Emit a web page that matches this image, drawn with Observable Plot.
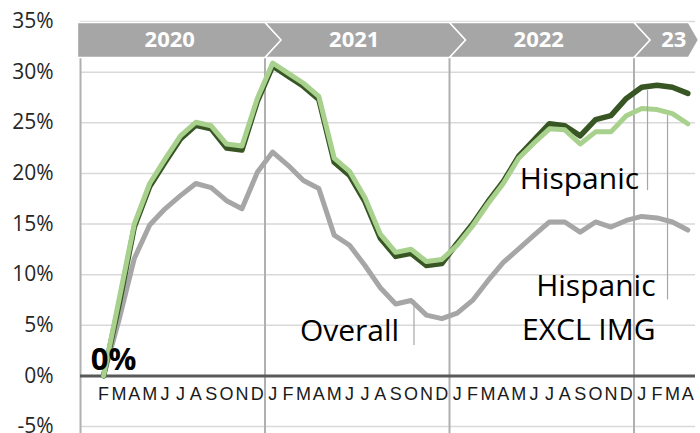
<!DOCTYPE html>
<html><head><meta charset="utf-8">
<script src="https://cdn.jsdelivr.net/npm/d3@7"></script>
<script src="https://cdn.jsdelivr.net/npm/@observablehq/plot@0.6"></script>
<style>body{margin:0;background:#fff;} #chart svg{display:block;}</style>
</head><body><div id="chart"></div>
<script>
// ---- data (index 0 = Jan 2020 ... 39 = Apr 2023) ----
const monthLabels = ["","F","M","A","M","J","J","A","S","O","N","D",
  "J","F","M","A","M","J","J","A","S","O","N","D",
  "J","F","M","A","M","J","J","A","S","O","N","D",
  "J","F","M","A"];
const years = ["2020","2021","2022","23"];
const yearMonths = [12,12,12,4];
const yTicks = [-5,0,5,10,15,20,25,30,35];

const hispanic = [null,0,7.0,14.7,18.7,21.1,23.4,24.75,24.4,22.5,22.3,27.1,
  30.6,29.6,28.6,27.3,21.1,19.8,17.2,13.6,11.8,12.1,10.9,11.1,
  13.1,15.0,17.2,19.2,21.7,23.3,24.9,24.7,23.7,25.3,25.7,27.4,
  28.5,28.7,28.5,27.9];
const hispanicExclImg = [null,0,7.5,15.0,19.0,21.4,23.7,25.05,24.7,22.9,22.7,27.4,
  30.9,29.9,28.9,27.6,21.5,20.2,17.6,14.0,12.2,12.5,11.3,11.5,
  12.9,14.8,17.0,19.0,21.5,23.0,24.4,24.3,22.9,24.1,24.1,25.7,
  26.4,26.3,25.9,24.9];
const overall = [null,0,5.5,11.6,14.9,16.5,17.8,19.0,18.6,17.3,16.5,20.1,
  22.1,20.8,19.3,18.5,13.9,12.9,10.9,8.7,7.1,7.45,6.0,5.65,
  6.2,7.45,9.4,11.2,12.55,13.9,15.2,15.2,14.2,15.2,14.7,15.35,
  15.75,15.6,15.2,14.4];

// ---- derived tables ----
const toRows = arr => arr.map((v, i) => ({i, v}));
const starts = yearMonths.map((n, k) => d3.sum(yearMonths.slice(0, k)));
const nMonths = d3.sum(yearMonths);

// banner geometry (in data units)
const bTop = 34.9, bBot = 31.45, bMid = (bTop + bBot) / 2, depth = 1.05;
const banner = [];
const yearLabels = [];
years.forEach((y, k) => {
  const last = k === years.length - 1;
  const a = k === 0 ? -0.7 : starts[k] - 0.5;
  const b = last ? starts[k] + yearMonths[k] - 0.95 : starts[k] + yearMonths[k] - 0.5;
  const d = last ? 0.65 : depth;
  const pts = [[a, bTop], [b, bTop], [b + d, bMid], [b, bBot], [a, bBot]];
  if (k > 0) pts.push([a + depth, bMid]);
  pts.push([a, bTop]);
  pts.forEach(([x, yy]) => banner.push({year: y, x, y: yy}));
  yearLabels.push({year: y, x: (starts[k] - 0.5 + starts[k] + yearMonths[k] - 0.5) / 2, last});
});
const separators = [-0.5, ...starts.slice(1).map(s => s - 0.5)];

const font = "'Open Sans', 'Noto Sans', sans-serif";

const chart = Plot.plot({
  width: 700, height: 433,
  marginLeft: 80, marginRight: 5, marginTop: 21, marginBottom: 7,
  style: {fontFamily: font, background: "#fff", overflow: "visible"},
  x: {type: "linear", domain: [-0.5, nMonths - 0.5]},
  y: {domain: [-5, 35]},
  marks: [
    Plot.ruleY(yTicks.filter(d => d !== 0), {stroke: "#d9d9d9", strokeWidth: 1.5}),
    Plot.ruleX(separators, {y1: bBot, y2: -6.2, stroke: "#b0b0b0", strokeWidth: 2}),
    Plot.line(banner, {x: "x", y: "y", z: "year", fill: "#a6a6a6", stroke: "#fff", strokeWidth: 1.5, curve: "linear"}),
    Plot.text(yearLabels.filter(d => !d.last), {x: "x", y: bMid, text: "year", fill: "#fff", fontWeight: "bold", fontSize: 22, dx: -3}),
    Plot.text(yearLabels.filter(d => d.last), {x: "x", y: bMid, text: "year", fill: "#fff", fontWeight: "bold", fontSize: 22, dx: 9}),
    Plot.ruleY([0], {stroke: "#595959", strokeWidth: 3}),
    Plot.line(toRows(overall), {x: "i", y: "v", stroke: "#a6a6a6", strokeWidth: 5, strokeLinejoin: "round", strokeLinecap: "round"}),
    Plot.line(toRows(hispanic), {x: "i", y: "v", stroke: "#375623", strokeWidth: 5.5, strokeLinejoin: "round", strokeLinecap: "round"}),
    Plot.line(toRows(hispanicExclImg), {x: "i", y: "v", stroke: "#a9d18e", strokeWidth: 5, strokeLinejoin: "round", strokeLinecap: "round"}),
    // leader lines
    Plot.ruleX([{x: 21.19, y1: 7.45, y2: 3.0}, {x: 36.38, y1: 28.2, y2: 18.3}, {x: 37.68, y1: 25.7, y2: 7.5}],
      {x: "x", y1: "y1", y2: "y2", stroke: "#a6a6a6", strokeWidth: 1.2}),
    // labels
    Plot.text([{x: 1, y: 0, t: "0%"}], {x: "x", y: "y", text: "t", fontSize: 31, fontWeight: "bold", fill: "#000", dx: 10, dy: -16}),
    Plot.text([{x: 17.0, y: 4.4, t: "Overall"}], {x: "x", y: "y", text: "t", fontSize: 30, fill: "#000"}),
    Plot.text([{x: 31.95, y: 19.4, t: "Hispanic"}], {x: "x", y: "y", text: "t", fontSize: 30, fill: "#000"}),
    Plot.text([{x: 36.9, y: 7.15, t: "Hispanic\nEXCL IMG"}], {x: "x", y: "y", text: "t", fontSize: 30, fill: "#000", textAnchor: "end", lineHeight: 1.47}),
    // axes
    Plot.axisY({ticks: yTicks, tickSize: 0, tickPadding: 27, tickFormat: d => d + "%", fontSize: 21, color: "#262626"}),
    Plot.axisX({ticks: d3.range(nMonths), tickSize: 0, tickPadding: 0, tickFormat: i => monthLabels[i], fontSize: 18, fontFamily: "'Liberation Sans', Arial, sans-serif", color: "#1a1a1a", dy: -39})
  ]
});
document.getElementById("chart").append(chart);
</script>
</body></html>
